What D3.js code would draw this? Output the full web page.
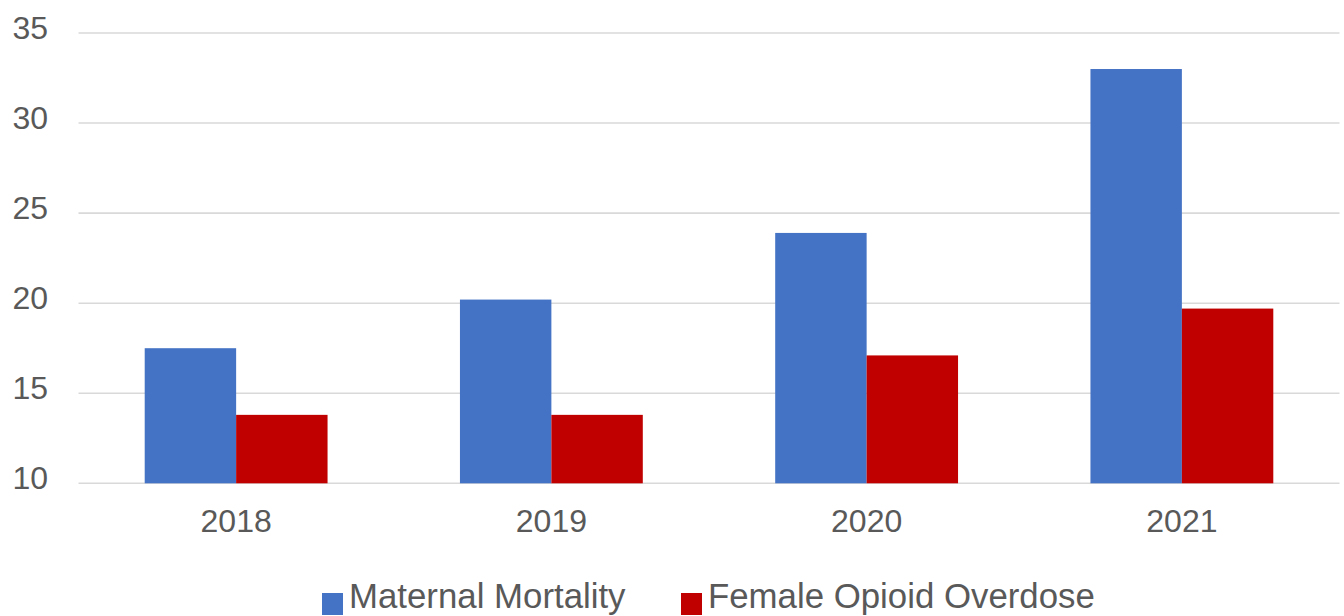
<!DOCTYPE html>
<html>
<head>
<meta charset="utf-8">
<script src="https://cdn.jsdelivr.net/npm/d3@7"></script>
<style>
  html, body { margin: 0; padding: 0; background: #fff; }
  svg { display: block; }
  text { font-family: "Liberation Sans", Arial, Helvetica, sans-serif; fill: #595959; }
</style>
</head>
<body>
<svg id="chart" width="1344" height="616"></svg>
<script>
const years = ["2018", "2019", "2020", "2021"];
const seriesNames = ["Maternal Mortality", "Female Opioid Overdose"];
const maternalMortality = [17.5, 20.2, 23.9, 33.0];
const femaleOpioidOverdose = [13.8, 13.8, 17.1, 19.7];
const yTicks = [10, 15, 20, 25, 30, 35];
const colors = ["#4472c4", "#c00000"];

const svg = d3.select("#chart");
const plotLeft = 78.5, plotRight = 1339.5, plotTop = 33, plotBottom = 483.3;

const x = d3.scaleBand().domain(years).range([plotLeft, plotRight]).paddingInner(0.42).paddingOuter(0.21);
const xs = d3.scaleBand().domain(seriesNames).range([0, x.bandwidth()]).padding(0);
const y = d3.scaleLinear().domain([10, 35]).range([plotBottom, plotTop]);

// gridlines
svg.append("g").selectAll("line").data(yTicks).join("line")
  .attr("x1", plotLeft).attr("x2", plotRight)
  .attr("y1", d => y(d)).attr("y2", d => y(d))
  .attr("stroke", "#d9d9d9").attr("stroke-width", 1.6);

// y labels
svg.append("g").selectAll("text").data(yTicks).join("text")
  .attr("x", 48).attr("y", d => y(d) + 6)
  .attr("text-anchor", "end")
  .attr("font-size", 32)
  .text(d => d);

// bars
const data = years.map((yr, i) => ({ year: yr, values: [maternalMortality[i], femaleOpioidOverdose[i]] }));
const groups = svg.append("g").selectAll("g").data(data).join("g")
  .attr("transform", d => `translate(${x(d.year)},0)`);
groups.selectAll("rect").data(d => d.values.map((v, j) => ({ name: seriesNames[j], v, j })))
  .join("rect")
  .attr("x", d => xs(d.name))
  .attr("width", xs.bandwidth())
  .attr("y", d => y(d.v))
  .attr("height", d => y(10) - y(d.v))
  .attr("fill", d => colors[d.j]);

// x labels
svg.append("g").selectAll("text").data(years).join("text")
  .attr("x", d => x(d) + x.bandwidth() / 2)
  .attr("y", 532)
  .attr("text-anchor", "middle")
  .attr("font-size", 32)
  .text(d => d);

// legend
const legendX = [322, 681];
const leg = svg.append("g").selectAll("g").data(seriesNames).join("g")
  .attr("transform", (d, i) => `translate(${legendX[i]},0)`);
leg.append("rect").attr("x", 0).attr("y", 593).attr("width", 21).attr("height", 22)
  .attr("fill", (d, i) => colors[i]);
leg.append("text").attr("x", 27).attr("y", 608).attr("font-size", 34.8).text(d => d);
</script>
</body>
</html>
